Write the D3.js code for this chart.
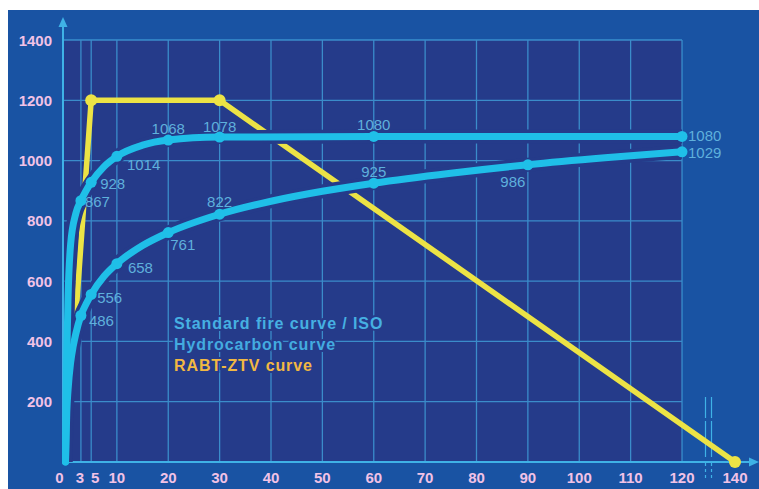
<!DOCTYPE html>
<html><head><meta charset="utf-8">
<script src="https://cdn.jsdelivr.net/npm/d3@7"></script>
<style>body{margin:0;background:#fff}svg{display:block}</style>
</head><body><svg id="c" width="759" height="489"></svg>
<script>
// ---- data ----
const xTicks = [0,3,5,10,20,30,40,50,60,70,80,90,100,110,120,140];
const xTickLabels = ["0","3","5","10","20","30","40","50","60","70","80","90","100","110","120","140"];
const yTicks = [200,400,600,800,1000,1200,1400];
const yTickLabels = ["200","400","600","800","1000","1200","1400"];

const isoMinutes = [0,0.25,0.5,1,1.5,2,3,4,5,7.5,10,15,20,30,40,50,60,75,90,105,120];
const isoTemps   = [0,165,240,330,384,425,486,524,556,616,658,718,761,822,865,898,925,958,986,1009,1029];
const isoLabeledMinutes = [3,5,10,20,30,60,90,120];

const hcMinutes = [0,0.25,0.5,1,2,3,4,5,7.5,10,15,20,30,60,120];
const hcTemps   = [0,353,548,723,824,867,900,928,980,1014,1051,1068,1078,1080,1080];
const hcLabeledMinutes = [3,5,10,20,30,60,120];

const rabtMinutes = [0,5,30,140];
const rabtTemps   = [0,1200,1200,0];
const rabtDotMinutes = [5,30,140];

const legendLabels = ["Standard fire curve / ISO","Hydrocarbon curve","RABT-ZTV curve"];

// label placement offsets (dx, dy, anchor) keyed by minute
const hcLabelPos = {3:[4,1,"start"],5:[9,1,"start"],10:[10,8,"start"],20:[0,-12,"middle"],30:[0,-11,"middle"],60:[0,-12,"middle"],120:[6,-1,"start"]};
const isoLabelPos = {3:[8,5,"start"],5:[6,3,"start"],10:[11,4,"start"],20:[2,12,"start"],30:[0,-13,"middle"],60:[0,-12,"middle"],90:[-15,17,"middle"],120:[6,1,"start"]};

// ---- styles ----
const C = {
  outer:"#1953a3", plot:"#253b8a", grid:"#3f9bd6", axis:"#3fb2e6",
  cyan:"#1fbfe8", yellow:"#ece345", tick:"#f1c2e6", label:"#5fb0dc",
  legIso:"#46b0e2", legHc:"#43abe0", legRabt:"#f2b842"
};

const svg = d3.select("#c");
const x = d3.scaleLinear().domain([0,120,140]).range([65.5,682,735]);
const y = d3.scaleLinear().domain([0,1400]).range([462,40]);

svg.append("rect").attr("x",8).attr("y",10).attr("width",751).attr("height",479).attr("fill",C.outer);
svg.append("rect").attr("x",x(0)-2.5).attr("y",y(1400)).attr("width",x(120)-x(0)+2.5).attr("height",y(0)-y(1400)).attr("fill",C.plot);

const defs = svg.append("defs");
defs.append("clipPath").attr("id","pc").append("rect")
  .attr("x",x(0)-1).attr("y",y(1400)).attr("width",x(120)-x(0)+1).attr("height",y(0)-y(1400));

// grid
const g = svg.append("g").attr("stroke",C.grid).attr("stroke-width",1.3).attr("opacity",0.85);
yTicks.forEach(v=>g.append("line").attr("x1",x(0)-2.5).attr("x2",x(120)).attr("y1",y(v)).attr("y2",y(v)));
xTicks.filter(t=>t>0 && t<=120).forEach(t=>g.append("line").attr("x1",x(t)).attr("x2",x(t)).attr("y1",y(1400)).attr("y2",y(0)));

// axes
const ax = svg.append("g").attr("stroke",C.axis).attr("stroke-width",2);
ax.append("line").attr("x1",x(0)-2.5).attr("x2",x(0)-2.5).attr("y1",y(0)).attr("y2",24);
ax.append("line").attr("x1",x(0)-2.5).attr("x2",752).attr("y1",y(0)).attr("y2",y(0));
svg.append("path").attr("fill",C.axis)
  .attr("d",`M${x(0)-2.5},17 L${x(0)-7},27 L${x(0)+2},27 Z`);
svg.append("path").attr("fill",C.axis)
  .attr("d",`M759,${y(0)} L749,${y(0)-4.5} L749,${y(0)+4.5} Z`);

// break marks
const bx = (x(120)+x(140))/2;
[-3,3].forEach(o=>{
  svg.append("line").attr("x1",bx+o).attr("x2",bx+o).attr("y1",397).attr("y2",481)
    .attr("stroke",C.axis).attr("stroke-width",1.2).attr("stroke-dasharray","21,3,36,6,3,3,3,3,3,3");
});

const line = d3.line().x(d=>x(d[0])).y(d=>y(d[1]));
const curve = d3.line().x(d=>x(d[0])).y(d=>y(d[1])).curve(d3.curveMonotoneX);

const rabt = rabtMinutes.map((t,i)=>[t,rabtTemps[i]]);
const iso = isoMinutes.map((t,i)=>[t,isoTemps[i]]);
const hc = hcMinutes.map((t,i)=>[t,hcTemps[i]]);

// RABT
svg.append("path").attr("d",line(rabt)).attr("fill","none").attr("stroke",C.yellow)
  .attr("stroke-width",5.5).attr("stroke-linejoin","round");
rabtDotMinutes.forEach(t=>{
  const v = rabtTemps[rabtMinutes.indexOf(t)];
  svg.append("circle").attr("cx",x(t)).attr("cy",y(v)).attr("r",6).attr("fill",C.yellow);
});

// halos
[iso,hc].forEach(d=>svg.append("path").attr("d",curve(d)).attr("fill","none")
  .attr("stroke",C.plot).attr("stroke-width",14).attr("clip-path","url(#pc)"));
// cyan curves
[iso,hc].forEach(d=>svg.append("path").attr("d",curve(d)).attr("fill","none")
  .attr("stroke",C.cyan).attr("stroke-width",7).attr("stroke-linecap","round"));

function dotsAndLabels(ts,vs,labeled,pos){
  labeled.forEach(t=>{
    const v = vs[ts.indexOf(t)];
    svg.append("circle").attr("cx",x(t)).attr("cy",y(v)).attr("r",5.5).attr("fill",C.cyan);
    const p = pos[t];
    svg.append("text").attr("x",x(t)+p[0]).attr("y",y(v)+p[1]).attr("text-anchor",p[2])
      .attr("dominant-baseline","central").attr("fill",C.label)
      .attr("font-family","Liberation Sans, Arial, sans-serif").attr("font-size",15)
      .text(v);
  });
}
dotsAndLabels(hcMinutes,hcTemps,hcLabeledMinutes,hcLabelPos);
dotsAndLabels(isoMinutes,isoTemps,isoLabeledMinutes,isoLabelPos);

// legend
const legColors = [C.legIso,C.legHc,C.legRabt];
legendLabels.forEach((s,i)=>{
  svg.append("text").attr("x",174).attr("y",323+i*21).attr("dominant-baseline","central")
    .attr("font-family","Liberation Sans, Arial, sans-serif").attr("font-weight","bold")
    .attr("font-size",16).attr("letter-spacing",0.9)
    .attr("fill",legColors[i]).attr("stroke",C.plot).attr("stroke-width",4)
    .attr("paint-order","stroke").text(s);
});

// tick labels
const xLabelNudge = {0:-6,3:-1,5:4};
xTicks.forEach((t,i)=>{
  svg.append("text").attr("x",x(t)+(xLabelNudge[t]||0)).attr("y",477)
    .attr("text-anchor","middle").attr("dominant-baseline","central")
    .attr("font-family","Liberation Sans, Arial, sans-serif").attr("font-weight","bold")
    .attr("font-size",15).attr("fill",C.tick).text(xTickLabels[i]);
});
yTicks.forEach((v,i)=>{
  svg.append("text").attr("x",52).attr("y",y(v)).attr("text-anchor","end").attr("dominant-baseline","central")
    .attr("font-family","Liberation Sans, Arial, sans-serif").attr("font-weight","bold")
    .attr("font-size",15).attr("fill",C.tick).text(yTickLabels[i]);
});
</script></body></html>
